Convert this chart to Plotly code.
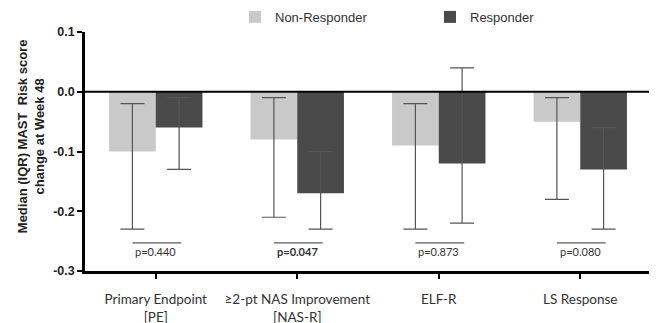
import plotly.graph_objects as go

categories = ["Primary Endpoint<br>[PE]", "≥2-pt NAS Improvement<br>[NAS-R]", "ELF-R", "LS Response"]
non_resp = [-0.10, -0.08, -0.09, -0.05]
non_resp_q1 = [-0.23, -0.21, -0.23, -0.18]
non_resp_q3 = [-0.02, -0.01, -0.02, -0.01]
resp = [-0.06, -0.17, -0.12, -0.13]
resp_q1 = [-0.13, -0.23, -0.22, -0.23]
resp_q3 = [-0.01, -0.10, 0.04, -0.06]
p_values = ["p=0.440", "<b>p=0.047</b>", "p=0.873", "p=0.080"]
y_ticks = [0.1, 0.0, -0.1, -0.2, -0.3]
y_tick_text = ["0.1", "0.0", "-0.1", "-0.2", "-0.3"]
y_title = "<b>Median (IQR) MAST  Risk score<br>change at Week 48</b>"

def err(v, q1, q3):
    return dict(type="data", symmetric=False,
                array=[b - a for a, b in zip(v, q3)],
                arrayminus=[a - b for a, b in zip(v, q1)],
                color="#555555", thickness=1.2, width=12)

fig = go.Figure()
fig.add_trace(go.Bar(name="Non-Responder", x=categories, y=non_resp,
                     marker=dict(color="#c9c9c9", line=dict(width=0)),
                     error_y=err(non_resp, non_resp_q1, non_resp_q3)))
fig.add_trace(go.Bar(name="Responder", x=categories, y=resp,
                     marker=dict(color="#4a4a4a", line=dict(width=0)),
                     error_y=err(resp, resp_q1, resp_q3)))

# zero line
fig.add_shape(type="line", xref="paper", yref="y", x0=0, x1=1, y0=0, y1=0,
              line=dict(color="black", width=2))

for i, p in enumerate(p_values):
    fig.add_shape(type="line", xref="x", yref="y", x0=i - 0.165, x1=i + 0.18,
                  y0=-0.253, y1=-0.253, line=dict(color="#333333", width=1))
    fig.add_annotation(x=i, y=-0.268, xref="x", yref="y", text=p, showarrow=False,
                       font=dict(family="Lato, Open Sans, sans-serif", size=11, color="#333333"))

fig.add_annotation(x=-0.095, y=0.565, xref="paper", yref="paper", text=y_title,
                   textangle=-90, showarrow=False, xanchor="center", yanchor="middle",
                   font=dict(family="Arial, Liberation Sans, sans-serif", size=13, color="#222222"))

fig.update_layout(
    width=649, height=315,
    margin=dict(l=77, r=6, t=24, b=52, autoexpand=False),
    plot_bgcolor="white", paper_bgcolor="white",
    barmode="group", bargap=0.34, bargroupgap=0,
    showlegend=True,
    legend=dict(orientation="h", x=0.265, xanchor="left", y=1.063, yanchor="middle",
                font=dict(family="Arial, Liberation Sans, sans-serif", size=13, color="#333333"),
                itemwidth=30, traceorder="normal", entrywidth=150),
    font=dict(family="Arial, Liberation Sans, sans-serif", color="#222222"),
)
fig.update_yaxes(range=[-0.3, 0.1], tickvals=y_ticks, ticktext=y_tick_text,
                 showgrid=False, zeroline=False, showline=True, linecolor="black", linewidth=2.5,
                 ticks="outside", ticklen=5, tickwidth=2, tickcolor="black",
                 tickfont=dict(family="Arial, Liberation Sans, sans-serif", size=12.5, color="#222222", weight="bold"))
fig.update_xaxes(range=[-0.5, 3.5], showgrid=False, showline=True, linecolor="black", linewidth=2.5,
                 ticks="outside", ticklen=5, tickwidth=2, tickcolor="black", ticklabelstandoff=9,
                 tickfont=dict(family="Lato, Open Sans, sans-serif", size=13.5, color="#333333"))

fig.write_html("out.html")
